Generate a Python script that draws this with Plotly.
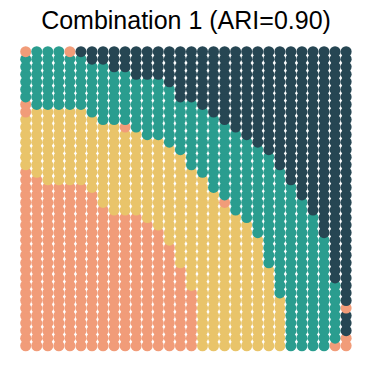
import plotly.graph_objects as go

TITLE = "Combination 1 (ARI=0.90)"
N_ROWS = 40
N_COLS = 30

# cluster colours
COLORS = {"D": "#264653", "T": "#2A9D8F", "Y": "#E9C46A", "S": "#F19C79"}

# per-column label runs, read from top row (row 0) downward: (label, count)
col_runs = [
    [("S", 1), ("T", 6), ("S", 2), ("Y", 7), ("S", 24)],
    [("T", 8), ("Y", 9), ("S", 23)],
    [("T", 8), ("Y", 10), ("S", 22)],
    [("T", 8), ("Y", 10), ("S", 22)],
    [("S", 1), ("T", 7), ("Y", 10), ("S", 22)],
    [("D", 1), ("T", 7), ("Y", 10), ("S", 22)],
    [("D", 2), ("T", 7), ("Y", 10), ("S", 21)],
    [("D", 2), ("T", 8), ("Y", 11), ("S", 19)],
    [("D", 3), ("T", 7), ("Y", 12), ("S", 18)],
    [("D", 3), ("T", 7), ("S", 1), ("Y", 11), ("S", 18)],
    [("D", 4), ("T", 7), ("Y", 11), ("S", 18)],
    [("D", 4), ("T", 8), ("Y", 11), ("S", 17)],
    [("D", 4), ("T", 8), ("Y", 12), ("S", 16)],
    [("D", 5), ("T", 8), ("Y", 13), ("S", 14)],
    [("D", 7), ("T", 7), ("Y", 15), ("S", 11)],
    [("D", 7), ("T", 9), ("Y", 16), ("S", 8)],
    [("D", 8), ("T", 9), ("Y", 23)],
    [("D", 9), ("T", 10), ("Y", 21)],
    [("D", 10), ("T", 10), ("S", 1), ("Y", 19)],
    [("D", 11), ("T", 11), ("Y", 18)],
    [("D", 12), ("T", 11), ("Y", 17)],
    [("D", 13), ("T", 12), ("Y", 15)],
    [("D", 14), ("T", 15), ("Y", 11)],
    [("D", 16), ("T", 17), ("Y", 7)],
    [("D", 18), ("T", 22)],
    [("D", 20), ("T", 20)],
    [("D", 22), ("T", 18)],
    [("D", 25), ("T", 15)],
    [("D", 31), ("T", 8), ("S", 1)],
    [("D", 34), ("S", 1), ("D", 3), ("S", 2)],
]

# expand runs into a grid[col][row]
grid = []
for runs in col_runs:
    labels = []
    for lab, n in runs:
        labels.extend([lab] * n)
    grid.append(labels)

# draw bottom row first so upper rows sit on top
xs, ys, cs = [], [], []
for r in range(N_ROWS - 1, -1, -1):
    for c in range(N_COLS):
        xs.append(c)
        ys.append(N_ROWS - 1 - r)
        cs.append(COLORS[grid[c][r]])

fig = go.Figure(
    go.Scatter(
        x=xs, y=ys, mode="markers",
        marker=dict(size=11, color=cs, line=dict(width=0), opacity=1),
        hoverinfo="skip",
    )
)

fig.update_layout(
    width=372, height=372,
    margin=dict(l=20, r=20, t=40, b=20),
    paper_bgcolor="white", plot_bgcolor="white",
    showlegend=False,
    title=dict(
        text=TITLE, x=0.5, xanchor="center", xref="container",
        y=1 - 20 / 372, yanchor="middle", yref="container",
        font=dict(family="Liberation Sans, Arial, sans-serif", size=25, color="black"),
    ),
)
fig.update_xaxes(range=[-0.516, 29.53], visible=False, showgrid=False, zeroline=False)
fig.update_yaxes(range=[-0.83, 40.55], visible=False, showgrid=False, zeroline=False)

fig.write_html("out.html")
